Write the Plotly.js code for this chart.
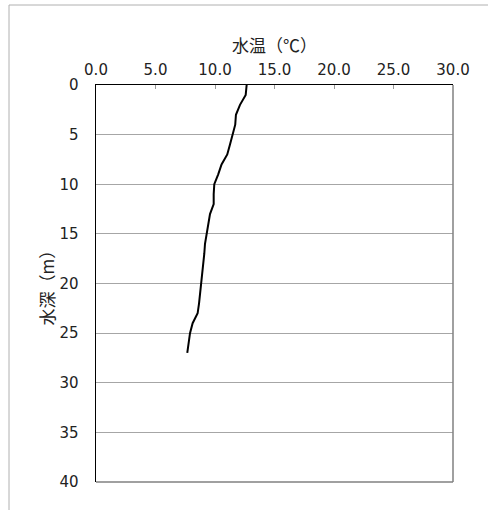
<!DOCTYPE html>
<html><head><meta charset="utf-8">
<script src="https://cdn.plot.ly/plotly-3.0.1.min.js"></script>
<style>html,body{margin:0;padding:0;background:#fff}</style>
</head><body>
<div id="chart" style="width:488px;height:510px"></div>
<script>
const depth = [0,1,2,3,4,5,6,7,8,9,10,11,12,13,14,15,16,17,18,19,20,21,22,23,24,25,26,27];
const temperature = [12.66,12.58,12.1,11.76,11.7,11.5,11.26,11.03,10.55,10.27,9.94,9.89,9.89,9.58,9.44,9.3,9.16,9.1,9.02,8.93,8.82,8.74,8.66,8.54,8.12,7.9,7.76,7.67];
const xTicks = [0,5,10,15,20,25,30];
const yTicks = [0,5,10,15,20,25,30,35,40];
const xTitle = '水温（℃）';
const yTitle = '水深（m）';

const cjk = "'Noto Sans CJK JP', 'Noto Sans', sans-serif";
const num = "'DejaVu Sans', sans-serif";
const L = 96, R = 453, T = 85, B = 482, W = 488, H = 510;
const px = v => (v - L) / (R - L);
const py = v => (B - v) / (B - T);

const trace = {
  x: temperature, y: depth, type: 'scatter', mode: 'lines',
  line: {color: '#000', width: 2}, hoverinfo: 'skip', showlegend: false
};
const layout = {
  width: W, height: H,
  margin: {l: L, r: W - R, t: T, b: H - B},
  paper_bgcolor: '#fff', plot_bgcolor: '#fff',
  font: {family: cjk, size: 13, color: '#000'},
  xaxis: {
    side: 'top', range: [0, 30], tickvals: xTicks, ticktext: xTicks.map(v => v.toFixed(1)),
    showgrid: false, zeroline: false, showline: true, linecolor: '#000', linewidth: 1.5,
    ticks: 'inside', ticklen: 4, tickcolor: '#999', tickfont: {family: num, size: 15, color: '#222'},
    ticklabelstandoff: 3,
    title: {text: xTitle, font: {family: cjk, size: 17, color: '#222'}, standoff: 3}
  },
  yaxis: {
    range: [40, 0], tickvals: yTicks, showgrid: true, gridcolor: '#a6a6a6', gridwidth: 1,
    zeroline: false, showline: true, linecolor: '#000', linewidth: 1.5, ticks: '',
    tickfont: {family: num, size: 15, color: '#222'}, ticklabelstandoff: 13,
    title: {text: yTitle, font: {family: cjk, size: 17, color: '#222'}, standoff: 0}
  },
  shapes: [
    {type: 'line', xref: 'paper', yref: 'paper', x0: 1, x1: 1, y0: 0, y1: 1, line: {color: '#808080', width: 1.5}},
    {type: 'line', xref: 'paper', yref: 'paper', x0: 0, x1: 1, y0: 0, y1: 0, line: {color: '#808080', width: 1.5}},
    {type: 'line', xref: 'paper', yref: 'paper', x0: px(9), x1: px(9), y0: py(5), y1: py(515), line: {color: '#b0b0b0', width: 1}},
    {type: 'line', xref: 'paper', yref: 'paper', x0: px(9), x1: px(495), y0: py(5), y1: py(5), line: {color: '#b0b0b0', width: 1}}
  ]
};
Plotly.newPlot('chart', [trace], layout, {displayModeBar: false, staticPlot: true});
</script>
</body></html>
